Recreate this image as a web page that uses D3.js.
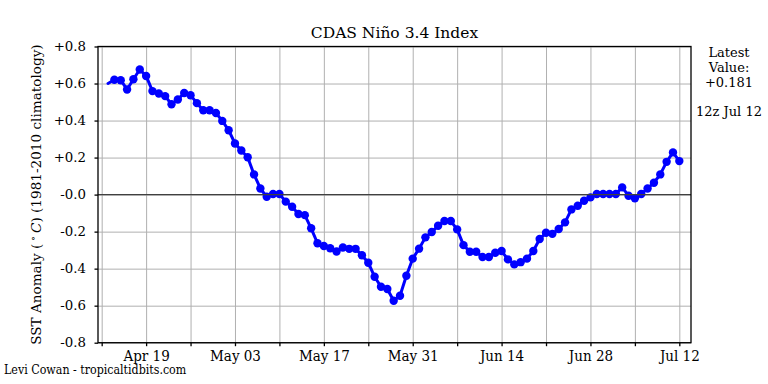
<!DOCTYPE html>
<html>
<head>
<meta charset="utf-8">
<script src="https://cdn.jsdelivr.net/npm/d3@7"></script>
<style>
  body { margin: 0; background: #fff; }
  svg { font-family: "DejaVu Serif", serif; }
</style>
</head>
<body>
<div id="chartContainer"></div>
<script>
// daily Nino 3.4 values, first one is Apr 13
const firstDay = "2020-04-13";
const ninoValues = [
  0.600, 0.620, 0.618, 0.568, 0.623, 0.676, 0.641, 0.559, 0.546, 0.532,
  0.488, 0.514, 0.549, 0.537, 0.494, 0.456, 0.456, 0.441, 0.398, 0.348,
  0.276, 0.238, 0.202, 0.109, 0.033, -0.012, 0.003, 0.003, -0.038, -0.066,
  -0.105, -0.111, -0.182, -0.263, -0.278, -0.290, -0.307, -0.286, -0.293, -0.293,
  -0.328, -0.368, -0.444, -0.498, -0.510, -0.573, -0.546, -0.438, -0.346, -0.292,
  -0.231, -0.202, -0.168, -0.143, -0.143, -0.188, -0.273, -0.309, -0.309, -0.337,
  -0.337, -0.314, -0.305, -0.350, -0.377, -0.365, -0.346, -0.305, -0.240, -0.206,
  -0.212, -0.186, -0.150, -0.080, -0.060, -0.033, -0.015, 0.003, 0.003, 0.003,
  0.003, 0.039, -0.006, -0.020, 0.003, 0.033, 0.064, 0.109, 0.177, 0.228,
  0.181,
];

// weekly ticks, labels every other week
const tickDates = [
  "2020-04-12", "2020-04-19", "2020-04-26", "2020-05-03", "2020-05-10",
  "2020-05-17", "2020-05-24", "2020-05-31", "2020-06-07", "2020-06-14",
  "2020-06-21", "2020-06-28", "2020-07-05", "2020-07-12",
];
const tickLabels = [
  "", "Apr 19", "", "May 03", "", "May 17", "", "May 31", "", "Jun 14",
  "", "Jun 28", "", "Jul 12",
];
const yTicks = [-0.8, -0.6, -0.4, -0.2, 0, 0.2, 0.4, 0.6, 0.8];

const titleText = "CDAS Niño 3.4 Index";
const latestLines = ["Latest", "Value:", "+0.181"];
const latestTime = "12z Jul 12";
const creditText = "Levi Cowan - tropicaltidbits.com";

const width = 768,
  height = 384;
const margin = { top: 46.5, right: 77, bottom: 41.3, left: 98 };
const innerW = width - margin.left - margin.right,
  innerH = height - margin.top - margin.bottom;

const parseDate = d3.timeParse("%Y-%m-%d");
const start = parseDate(firstDay);
const data = ninoValues.map((v, i) => ({
  date: d3.timeDay.offset(start, i),
  value: v,
}));
const ticks = tickDates.map(parseDate);

// axis limits sit a little outside the first/last tick
const xMin = new Date(ticks[0].getTime() - 0.58 * 864e5),
  xMax = new Date(ticks[ticks.length - 1].getTime() + 1.84 * 864e5);

const x = d3.scaleTime().domain([xMin, xMax]).range([0, innerW]);
const y = d3.scaleLinear().domain([-0.8, 0.8]).range([innerH, 0]);

const fmtY = (v) =>
  v > 0.001 ? "+" + v.toFixed(1) : "-" + Math.abs(v).toFixed(1);

const svg = d3
  .select("#chartContainer")
  .append("svg")
  .attr("width", width)
  .attr("height", height);

const g = svg
  .append("g")
  .attr("transform", `translate(${margin.left},${margin.top})`);

//grid
g.append("g")
  .attr("class", "gridX")
  .call(d3.axisBottom(x).tickValues(ticks).tickSize(innerH).tickFormat(""))
  .call((s) => s.select(".domain").remove())
  .selectAll("line")
  .attr("stroke", "#b0b0b0")
  .attr("stroke-width", 1);

g.append("g")
  .attr("class", "gridY")
  .call(d3.axisLeft(y).tickValues(yTicks).tickSize(-innerW).tickFormat(""))
  .call((s) => s.select(".domain").remove())
  .selectAll("line")
  .attr("stroke", "#b0b0b0")
  .attr("stroke-width", 1);

//data line + markers
const line = d3
  .line()
  .x((d) => x(d.date))
  .y((d) => y(d.value));

g.append("path")
  .datum(data)
  .attr("fill", "none")
  .attr("stroke", "#0000ff")
  .attr("stroke-width", 3)
  .attr("stroke-linejoin", "round")
  .attr("stroke-linecap", "round")
  .attr("d", line);

g.selectAll("circle")
  .data(data.slice(1))
  .enter()
  .append("circle")
  .attr("cx", (d) => x(d.date))
  .attr("cy", (d) => y(d.value))
  .attr("r", 4.2)
  .attr("fill", "#0000ff");

//zero line on top
g.append("line")
  .attr("x1", 0)
  .attr("x2", innerW)
  .attr("y1", y(0))
  .attr("y2", y(0))
  .attr("stroke", "#404040")
  .attr("stroke-width", 1.3);

//axes
const xAxis = g
  .append("g")
  .attr("transform", `translate(0,${innerH})`)
  .call(
    d3
      .axisBottom(x)
      .tickValues(ticks)
      .tickFormat((d, i) => tickLabels[i])
      .tickSize(3.5)
      .tickSizeOuter(0)
  );
xAxis.select(".domain").remove();
xAxis.selectAll("line").attr("stroke", "#000").attr("stroke-width", 1.3);
xAxis
  .selectAll("text")
  .attr("fill", "#000")
  .attr("dy", null)
  .attr("y", 18)
  .style("font-family", '"DejaVu Serif", serif')
  .style("font-stretch", "condensed")
  .style("font-size", "15px");

const yAxis = g
  .append("g")
  .call(
    d3.axisLeft(y).tickValues(yTicks).tickFormat(fmtY).tickSize(3.5).tickSizeOuter(0)
  );
yAxis.select(".domain").remove();
yAxis.selectAll("line").attr("stroke", "#000").attr("stroke-width", 1.3);
yAxis
  .selectAll("text")
  .attr("fill", "#000")
  .attr("x", -12)
  .style("font-family", '"DejaVu Serif", serif')
  .style("font-size", "13.33px");

//frame
g.append("rect")
  .attr("width", innerW)
  .attr("height", innerH)
  .attr("fill", "none")
  .attr("stroke", "#000")
  .attr("stroke-width", 1.3);

//title
svg
  .append("text")
  .attr("x", margin.left + innerW / 2)
  .attr("y", 38)
  .attr("text-anchor", "middle")
  .style("font-size", "15.5px")
  .text(titleText);

//y label
const yLabel = svg
  .append("text")
  .attr("transform", `translate(41,${margin.top + innerH / 2}) rotate(-90)`)
  .attr("text-anchor", "middle")
  .style("font-size", "13.6px");
yLabel.append("tspan").text("SST Anomaly (");
yLabel
  .append("tspan")
  .attr("dy", -5)
  .style("font-size", "9.5px")
  .text(" \u2218 ");
yLabel
  .append("tspan")
  .attr("dy", 5)
  .style("font-style", "italic")
  .text("C");
yLabel.append("tspan").text(") (1981-2010 climatology)");

//latest value box
const rightX = 729;
svg
  .selectAll(".latest")
  .data(latestLines)
  .enter()
  .append("text")
  .attr("class", "latest")
  .attr("x", rightX)
  .attr("y", (d, i) => 57 + i * 15)
  .attr("text-anchor", "middle")
  .style("font-size", "13px")
  .text((d) => d);

svg
  .append("text")
  .attr("x", rightX)
  .attr("y", 116)
  .attr("text-anchor", "middle")
  .style("font-size", "13px")
  .text(latestTime);

//credit
svg
  .append("text")
  .attr("x", 4)
  .attr("y", 374)
  .style("font-stretch", "condensed")
  .style("font-size", "12.3px")
  .text(creditText);
</script>
</body>
</html>
